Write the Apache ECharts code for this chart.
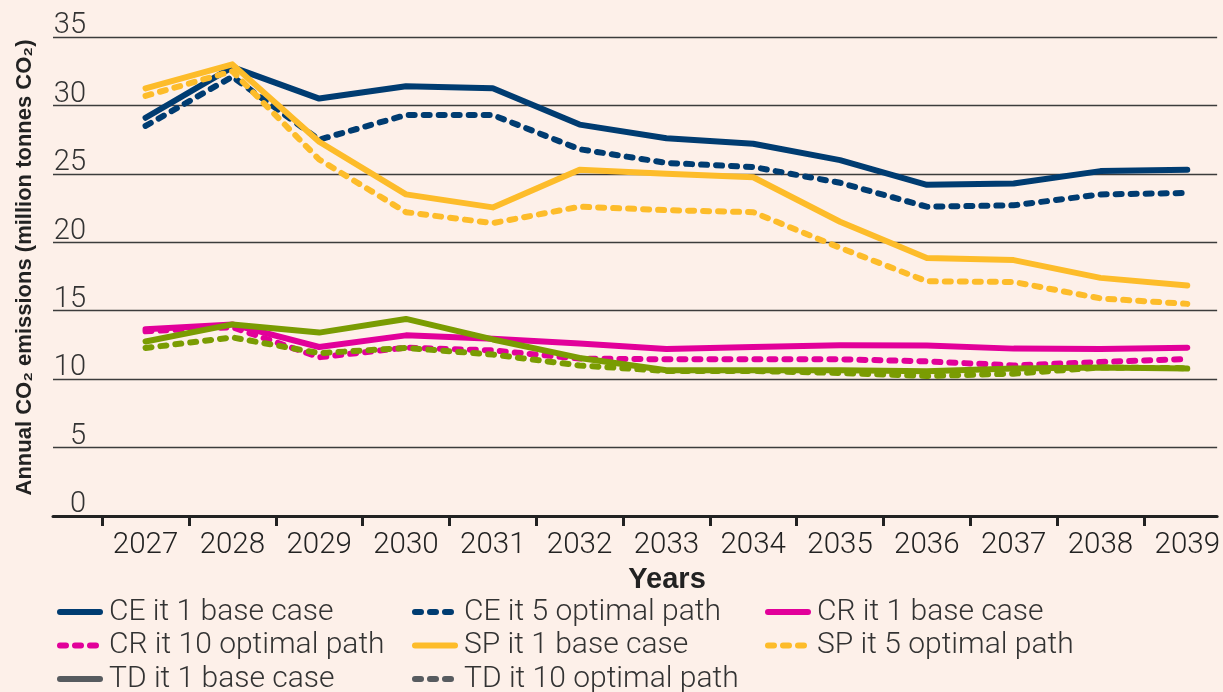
<!DOCTYPE html>
<html>
<head>
<meta charset="utf-8">
<script src="https://cdn.jsdelivr.net/npm/echarts@6/dist/echarts.min.js"></script>
<style>
  html, body { margin: 0; padding: 0; background: #fdf0e9; }
  #chart { width: 1223px; height: 692px; }
</style>
</head>
<body>
<div id="chart"></div>
<script>
// Years on the horizontal axis
const years = [2027, 2028, 2029, 2030, 2031, 2032, 2033, 2034, 2035, 2036, 2037, 2038, 2039];

// Annual CO2 emissions, million tonnes
const ceBase    = [29.1, 32.8, 30.5, 31.4, 31.25, 28.6, 27.6, 27.2, 26.0, 24.2, 24.3, 25.2, 25.3];
const ceOptimal = [28.5, 32.1, 27.5, 29.3, 29.3, 26.8, 25.8, 25.5, 24.35, 22.6, 22.7, 23.5, 23.6];
const crBase    = [13.65, 14.0, 12.35, 13.2, 12.95, 12.6, 12.2, 12.35, 12.47, 12.45, 12.23, 12.2, 12.3];
const crOptimal = [13.5, 13.8, 11.6, 12.3, 12.1, 11.5, 11.45, 11.45, 11.45, 11.3, 11.0, 11.25, 11.47];
const spBase    = [31.25, 33.0, 27.35, 23.5, 22.55, 25.3, 25.0, 24.75, 21.5, 18.85, 18.7, 17.4, 16.85];
const spOptimal = [30.7, 32.5, 26.05, 22.2, 21.4, 22.6, 22.35, 22.2, 19.6, 17.15, 17.1, 15.9, 15.5];
const tdBase    = [12.75, 14.0, 13.4, 14.4, 12.9, 11.55, 10.65, 10.65, 10.65, 10.57, 10.77, 10.85, 10.77];
const tdOptimal = [12.28, 13.05, 11.9, 12.28, 11.8, 11.0, 10.6, 10.6, 10.45, 10.23, 10.4, 10.85, 10.8];

// Y axis ticks
const yTicks = [0, 5, 10, 15, 20, 25, 30, 35];

const NAVY = '#003c71', MAGENTA = '#e2009a', YELLOW = '#fdbc2a', OLIVE = '#7a9c02', GREY = '#575b5f';
const DASH = [6, 9];
const LABEL_FONT = 'Roboto, "Liberation Sans", sans-serif';

function pairs(values) {
  return years.map((y, i) => [y, values[i]]);
}

function line(name, values, color, dashed) {
  return {
    name,
    type: 'line',
    data: pairs(values),
    symbol: 'none',
    showSymbol: false,
    lineStyle: { color, width: 6, type: dashed ? DASH : 'solid', cap: 'round', join: 'round' },
    itemStyle: { color },
    emphasis: { disabled: true },
    z: 2
  };
}

const seriesDefs = [
  line('CE it 1 base case', ceBase, NAVY, false),
  line('CE it 5 optimal path', ceOptimal, NAVY, true),
  line('CR it 1 base case', crBase, MAGENTA, false),
  line('CR it 10 optimal path', crOptimal, MAGENTA, true),
  line('SP it 1 base case', spBase, YELLOW, false),
  line('SP it 5 optimal path', spOptimal, YELLOW, true),
  line('TD it 1 base case', tdBase, OLIVE, false),
  line('TD it 10 optimal path', tdOptimal, OLIVE, true)
];

// Legend entries for TD are shown in grey
function legendItem(name) {
  if (name.startsWith('TD')) {
    return { name, itemStyle: { color: GREY, opacity: 0 }, lineStyle: { color: GREY } };
  }
  return { name };
}

function legendColumn(names, left) {
  return {
    orient: 'vertical',
    left,
    top: 597,
    height: 140,
    padding: 0,
    itemWidth: 40,
    itemHeight: 14,
    itemGap: 3.5,
    selectedMode: false,
    itemStyle: { opacity: 0 },
    lineStyle: { width: 6, cap: 'round' },
    data: names.map(legendItem),
    textStyle: { fontFamily: LABEL_FONT, fontWeight: 300, fontSize: 30, color: '#333', lineHeight: 27, padding: [0, 0, 0, 4] }
  };
}

const halfYears = years.slice(0, -1).map(y => y + 0.5);
halfYears.unshift(years[0] - 0.5);

const chart = echarts.init(document.getElementById('chart'), null, { renderer: 'canvas' });
chart.setOption({
  backgroundColor: '#fdf0e9',
  animation: false,
  grid: { left: 53, right: 0, top: 37, bottom: 176, containLabel: false },
  xAxis: {
    type: 'value',
    min: 2025.934,
    max: 2039.344,
    name: 'Years',
    nameLocation: 'middle',
    nameGap: 46,
    nameTextStyle: { fontFamily: '"Liberation Sans", Arial, sans-serif', fontWeight: 'bold', fontSize: 29, color: '#222', padding: [0, 0, 0, 64] },
    axisLine: { show: true, lineStyle: { color: '#222', width: 3 } },
    axisTick: { show: true, customValues: halfYears, length: 10, lineStyle: { color: '#222', width: 3 } },
    axisLabel: {
      customValues: years,
      formatter: v => String(Math.round(v)),
      fontFamily: LABEL_FONT, fontWeight: 300, fontSize: 29.5, color: '#222', margin: 15
    },
    splitLine: { show: false }
  },
  yAxis: {
    type: 'value',
    min: 0,
    max: 35,
    interval: 5,
    name: 'Annual CO₂ emissions (million tonnes CO₂)',
    nameLocation: 'middle',
    nameGap: 17,
    nameTextStyle: { fontFamily: '"Liberation Sans", Arial, sans-serif', fontWeight: 'bold', fontSize: 22, color: '#222', padding: [0, 0, 0, 18] },
    axisLine: { show: false },
    axisTick: { show: false },
    axisLabel: {
      inside: true,
      margin: 33,
      align: 'right',
      verticalAlign: 'bottom',
      lineHeight: 22,
      fontFamily: LABEL_FONT, fontWeight: 300, fontSize: 29, color: '#333',
      formatter: v => (yTicks.includes(v) ? String(v) : '')
    },
    splitLine: { show: true, lineStyle: { color: '#3c3c3c', width: 1.4 } }
  },
  legend: [
    legendColumn(['CE it 1 base case', 'CR it 10 optimal path', 'TD it 1 base case'], 57),
    legendColumn(['CE it 5 optimal path', 'SP it 1 base case', 'TD it 10 optimal path'], 412),
    legendColumn(['CR it 1 base case', 'SP it 5 optimal path'], 765)
  ],
  series: seriesDefs
});
</script>
</body>
</html>
